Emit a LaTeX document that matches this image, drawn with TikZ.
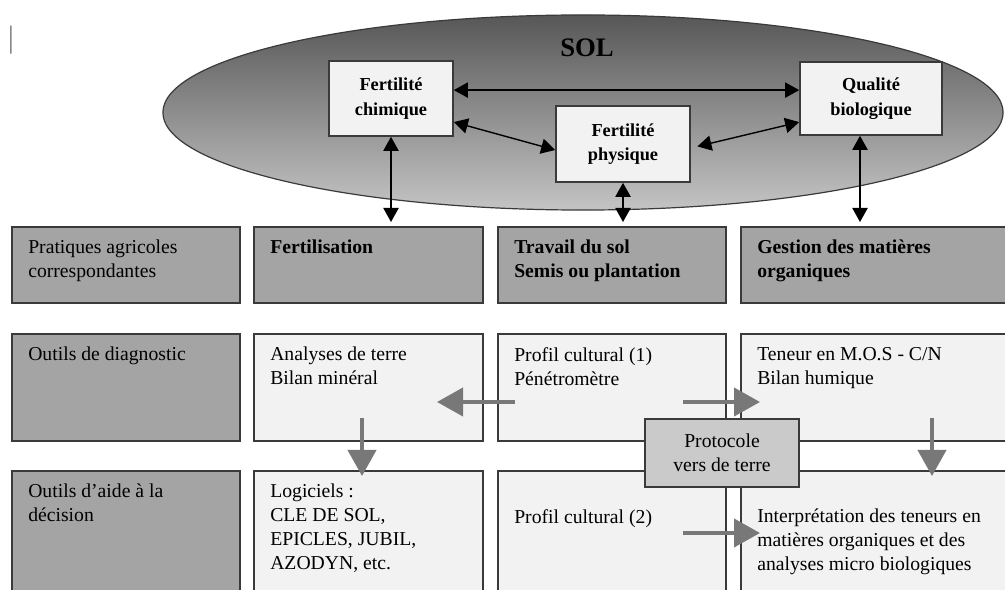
\documentclass[tikz,border=0pt]{standalone}
\usepackage{fontspec}
\setmainfont{Liberation Serif}
\usetikzlibrary{arrows.meta,positioning,calc,shapes.geometric}

\definecolor{darkcell}{HTML}{A4A4A4}
\definecolor{lightcell}{HTML}{F2F2F2}
\definecolor{protofill}{HTML}{CACACA}
\definecolor{boxline}{HTML}{3A3A3A}
\definecolor{arrowgray}{HTML}{787878}
\definecolor{soltop}{HTML}{575757}
\definecolor{solbottom}{HTML}{C4C4C4}

\tikzset{
  cell/.style={draw=boxline, line width=0.05cm, anchor=north west, inner sep=0pt},
  dark/.style={cell, fill=darkcell},
  light/.style={cell, fill=lightcell},
  txt/.style={anchor=north west, align=left, inner sep=0pt, font=\fontsize{14}{17}\selectfont},
  bold/.style={txt, font=\bfseries\fontsize{14}{17}\selectfont},
  soilbox/.style={draw=boxline, line width=0.04cm, fill=lightcell, align=center, inner sep=0pt,
    font=\bfseries\fontsize{13}{17.5}\selectfont},
  blk/.style={{Triangle[length=0.35cm,width=0.38cm]}-{Triangle[length=0.35cm,width=0.38cm]}, line width=0.035cm},
  gry/.style={-{Triangle[length=0.65cm,width=0.7cm]}, line width=0.1cm, draw=arrowgray}
}

\begin{document}
\begin{tikzpicture}[x=0.025cm, y=-0.025cm]
        \clip (0,0) rectangle (1005,590);

        % stray mark
        \node[text=gray, font=\fontsize{22}{22}\selectfont] (mark) at (11,40) {|};

        %%%% Soil =========================================
        \node[ellipse, draw=boxline, line width=0.03cm, top color=soltop, bottom color=solbottom,
              minimum width=21cm, minimum height=4.875cm] (sol) at (583,112.5) {};
        \node[font=\bfseries\fontsize{19}{22}\selectfont] (soltitle) at (587,48) {SOL};

        % Components
        \node[soilbox, minimum width=3.1cm, minimum height=1.875cm] (chim) at (391,98.5) {Fertilité\\chimique};
        \node[soilbox, minimum width=3.35cm, minimum height=1.9cm] (phys) at (623,144) {Fertilité\\physique};
        \node[soilbox, minimum width=3.55cm, minimum height=1.825cm] (qual) at (871,98.5) {Qualité\\biologique};

        % Links
        \draw[blk] ([yshift=0.21cm]chim.east) -- ([yshift=0.21cm]qual.west);
        \draw[blk] ([yshift=-0.59cm]chim.east) -- ([yshift=-0.15cm]phys.west);
        \draw[blk, shorten <=0.17cm] ([yshift=-0.1cm]phys.east) -- ([yshift=-0.59cm]qual.west);

        %%%% Table ========================================
        % Row 1
        \node[dark, minimum width=5.7cm, minimum height=1.9cm] (r1c0) at (11,226) {};
        \node[dark, minimum width=5.725cm, minimum height=1.9cm] (r1c1) at (253,226) {};
        \node[dark, minimum width=5.7cm, minimum height=1.9cm] (r1c2) at (497,226) {};
        \node[dark, minimum width=7cm, minimum height=1.9cm] (r1c3) at (740,226) {};

        % Row 2
        \node[dark, minimum width=5.7cm, minimum height=2.675cm] (r2c0) at (11,333) {};
        \node[light, minimum width=5.725cm, minimum height=2.675cm] (r2c1) at (253,333) {};
        \node[light, minimum width=5.7cm, minimum height=2.675cm] (r2c2) at (497,333) {};
        \node[light, minimum width=7cm, minimum height=2.675cm] (r2c3) at (740,333) {};

        % Row 3
        \node[dark, minimum width=5.7cm, minimum height=3cm] (r3c0) at (11,470) {};
        \node[light, minimum width=5.725cm, minimum height=3cm] (r3c1) at (253,470) {};
        \node[light, minimum width=5.7cm, minimum height=3cm] (r3c2) at (497,470) {};
        \node[light, minimum width=7cm, minimum height=3cm] (r3c3) at (740,470) {};

        % Texts
        \node[txt] (t1c0) at ([shift={(17,14)}]r1c0.north west) {Pratiques agricoles\\correspondantes};
        \node[bold] (t1c1) at ([shift={(17,14)}]r1c1.north west) {Fertilisation};
        \node[bold] (t1c2) at ([shift={(17,14)}]r1c2.north west) {Travail du sol\\Semis ou plantation};
        \node[bold] (t1c3) at ([shift={(17,14)}]r1c3.north west) {Gestion des matières\\organiques};
        \node[txt] (t2c0) at ([shift={(17,14)}]r2c0.north west) {Outils de diagnostic};
        \node[txt] (t2c1) at ([shift={(17,14)}]r2c1.north west) {Analyses de terre\\Bilan minéral};
        \node[txt] (t2c2) at ([shift={(17,14)}]r2c2.north west) {Profil cultural (1)\\Pénétromètre};
        \node[txt] (t2c3) at ([shift={(17,14)}]r2c3.north west) {Teneur en M.O.S - C/N\\Bilan humique};
        \node[txt] (t3c0) at ([shift={(17,14)}]r3c0.north west) {Outils d'aide à la\\décision};
        \node[txt] (t3c1) at ([shift={(17,14)}]r3c1.north west) {Logiciels :\\CLE DE SOL,\\EPICLES, JUBIL,\\AZODYN, etc.};
        \node[txt] (t3c2) at ([shift={(17,39)}]r3c2.north west) {Profil cultural (2)};
        \node[txt] (t3c3) at ([shift={(17,39)}]r3c3.north west) {Interprétation des teneurs en\\matières organiques et des\\analyses micro biologiques};

        % Soil to practices
        \draw[blk, shorten >=0.1cm] (chim.south) -- (chim.south |- r1c1.north);
        \draw[blk, shorten >=0.1cm] (phys.south) -- (phys.south |- r1c2.north);
        \draw[blk, shorten >=0.1cm] ([xshift=-0.275cm]qual.south) -- ([xshift=-0.275cm]qual.south |- r1c3.north);

        %%%% Tool arrows ===================================
        \coordinate (dgleft) at (515,402);
        \coordinate (dgleftend) at (437,402);
        \coordinate (dgright) at (683,402);
        \coordinate (dgrightend) at (760,402);
        \coordinate (fertdown) at (362,418);
        \coordinate (fertdownend) at (362,476);
        \coordinate (orgdown) at (932,418);
        \coordinate (orgdownend) at (932,476);
        \coordinate (dcright) at (683,533);
        \coordinate (dcrightend) at (760,533);

        \draw[gry] (dgleft) -- (dgleftend);
        \draw[gry] (dgright) -- (dgrightend);
        \draw[gry] (fertdown) -- (fertdownend);
        \draw[gry] (orgdown) -- (orgdownend);
        \draw[gry] (dcright) -- (dcrightend);

        % Earthworm protocol
        \node[draw=boxline, line width=0.05cm, fill=protofill, align=center, inner sep=0pt,
              minimum width=3.85cm, minimum height=1.7cm, font=\fontsize{14}{17}\selectfont] (proto) at (722,453) {Protocole\\vers de terre};
    \end{tikzpicture}
\end{document}
